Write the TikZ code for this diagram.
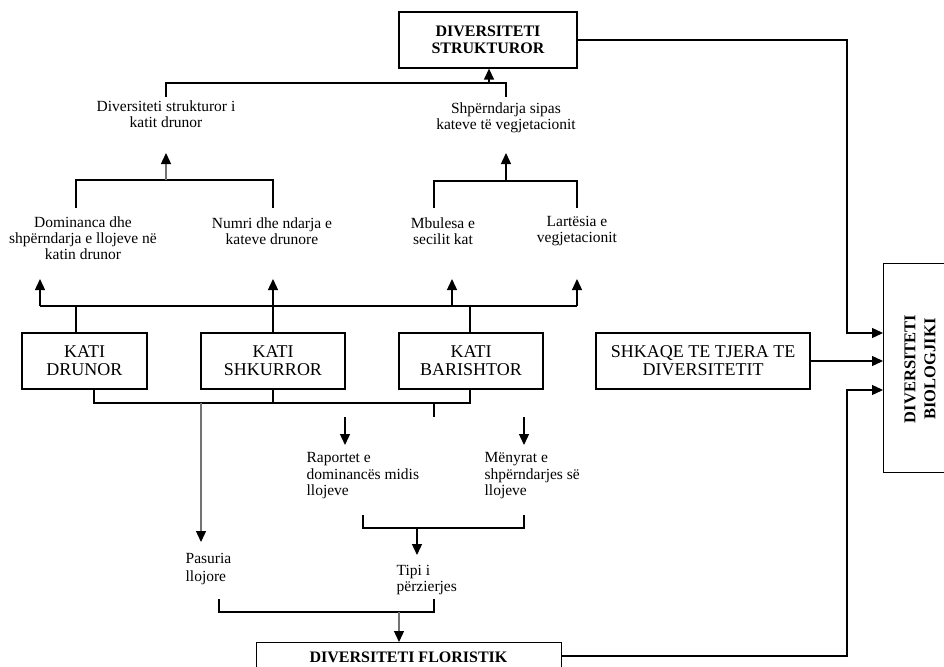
\documentclass[tikz,border=0pt]{standalone}
\usepackage{fontspec}
\setmainfont{Liberation Serif}
\usetikzlibrary{arrows.meta}
\begin{document}
\begin{tikzpicture}[x=1pt,y=-1pt,
  line width=1.3pt,
  arr/.style={-{Triangle[length=11pt,width=10pt,color=black]}},
  grayln/.style={draw=black!55},
  boxn/.style={draw, line width=1.3pt, minimum height=56pt, inner sep=0pt, align=center, font=\fontsize{18}{18}\selectfont},
  boldtxt/.style={inner sep=0pt, align=center, font=\bfseries\fontsize{16}{16.5}\selectfont},
  lbl/.style={inner sep=0pt, align=center, font=\fontsize{15.5}{16}\selectfont},
  lbll/.style={inner sep=0pt, align=left, font=\fontsize{15.5}{16.5}\selectfont},
]
\useasboundingbox (0,0) rectangle (944,666);
\clip (0,0) rectangle (944,666);

% boxes
\node[draw, minimum width=178pt, minimum height=56pt, boldtxt] (str) at (488,40) {DIVERSITETI\\STRUKTUROR};
\node[boxn, minimum width=125pt] (dru) at (84.5,361) {KATI\\DRUNOR};
\node[boxn, minimum width=144pt] (shk) at (273,361) {KATI\\SHKURROR};
\node[boxn, minimum width=144pt] (bar) at (471,361) {KATI\\BARISHTOR};
\node[boxn, minimum width=214pt] (oth) at (703,361) {SHKAQE TE TJERA TE\\DIVERSITETIT};
\node[draw, minimum width=90pt, minimum height=209pt, anchor=north west] (bio) at (883,263) {};
\node[boldtxt, rotate=90, font=\bfseries\fontsize{16.5}{20}\selectfont] (biot) at (920,369) {DIVERSITETI\\BIOLOGJIKI};
\node[draw, minimum width=305pt, minimum height=48pt, anchor=north west] (flo) at (256,642) {};
\node[boldtxt] (flot) at (408.5,657) {DIVERSITETI FLORISTIK};

% labels
\node[lbl] (dsk) at (166,114) {Diversiteti strukturor i\\katit drunor};
\node[lbl] (shp) at (506,118) {Shpërndarja sipas\\kateve të vegjetacionit};
\node[lbl] (dom) at (83,238) {Dominanca dhe\\shpërndarja e llojeve në\\katin drunor};
\node[lbl] (num) at (272,231) {Numri dhe ndarja e\\kateve drunore};
\node[lbl] (mbu) at (443,231) {Mbulesa e\\secilit kat};
\node[lbl] (lar) at (577,231) {Lartësia e\\vegjetacionit};
\node[lbll, anchor=west] (rap) at (306,476) {Raportet e\\dominancës midis\\llojeve};
\node[lbll, anchor=west] (men) at (484,476) {Mënyrat e\\shpërndarjes së\\llojeve};
\node[lbll, anchor=west, font=\fontsize{15.5}{18}\selectfont] (pas) at (185,569) {Pasuria\\llojore};
\node[lbll, anchor=west] (tip) at (396,580) {Tipi i\\përzierjes};

% coordinates
\coordinate (t1) at (166,97); \coordinate (t2) at (166,83);
\coordinate (t3) at (506,83); \coordinate (t4) at (506,97);
\coordinate (t5) at (489,83);
\coordinate (a1) at (76,208); \coordinate (a2) at (76,180);
\coordinate (a3) at (273,180); \coordinate (a4) at (273,208);
\coordinate (a5) at (166,180); \coordinate (a6) at (166,153);
\coordinate (b1) at (434,208); \coordinate (b2) at (434,181);
\coordinate (b3) at (577,181); \coordinate (b4) at (577,208);
\coordinate (b5) at (506,181); \coordinate (b6) at (506,153);
\coordinate (u0) at (40,306); \coordinate (u1) at (577,306);
\coordinate (u2) at (452,306);
\coordinate (u0t) at (40,279); \coordinate (u1t) at (577,279);
\coordinate (u2t) at (452,279); \coordinate (u3t) at (273,279);
\coordinate (ud) at (76,306); \coordinate (ub) at (470,306);
\coordinate (l0) at (94,403); \coordinate (l1) at (273,403); \coordinate (l2) at (470,403);
\coordinate (ls) at (434,403); \coordinate (lse) at (434,417);
\coordinate (lg) at (201,403); \coordinate (lgt) at (201,542);
\coordinate (r1) at (345,417); \coordinate (r1t) at (345,445);
\coordinate (m1) at (524,417); \coordinate (m1t) at (524,445);
\coordinate (c1) at (363,515); \coordinate (c2) at (363,528);
\coordinate (c3) at (524,528); \coordinate (c4) at (524,515);
\coordinate (c5) at (417,528); \coordinate (c5t) at (417,555);
\coordinate (d1) at (219,599); \coordinate (d2) at (219,612);
\coordinate (d3) at (434,612); \coordinate (d4) at (434,599);
\coordinate (d5) at (399,612);
\coordinate (e1) at (847,40); \coordinate (e2) at (847,333);
\coordinate (f1) at (561,656); \coordinate (f2) at (847,656); \coordinate (f3) at (847,390);

% top structure
\draw (t1) -- (t2) -- (t3) -- (t4);
\draw[arr] (t5) -- (t5 |- str.south);
\draw (a1) -- (a2) -- (a3) -- (a4);
\draw[grayln, arr] (a5) -- (a6);
\draw (b1) -- (b2) -- (b3) -- (b4);
\draw[arr] (b5) -- (b6);

% upper bus
\draw (u0) -- (u1);
\draw[arr] (u0) -- (u0t);
\draw[arr] (u1) -- (u1t);
\draw[arr] (u2) -- (u2t);
\draw[arr] (shk.north) -- (u3t);
\draw (ud |- dru.north) -- (ud);
\draw (ub |- bar.north) -- (ub);

% lower bus
\draw (l0 |- dru.south) -- (l0) -- (l2) -- (l2 |- bar.south);
\draw (shk.south) -- (l1);
\draw (ls) -- (lse);
\draw[grayln, arr] (lg) -- (lgt);
\draw[arr] (r1) -- (r1t);
\draw[arr] (m1) -- (m1t);
\draw (c1) -- (c2) -- (c3) -- (c4);
\draw[arr] (c5) -- (c5t);
\draw (d1) -- (d2) -- (d3) -- (d4);
\draw[grayln, arr] (d5) -- (d5 |- flo.north);

% right connectors
\draw[arr] (str.east) -- (e1) -- (e2) -- (e2 -| bio.west);
\draw[arr] (oth.east) -- (oth.east -| bio.west);
\draw[arr] (f1) -- (f2) -- (f3) -- (f3 -| bio.west);
\end{tikzpicture}
\end{document}
